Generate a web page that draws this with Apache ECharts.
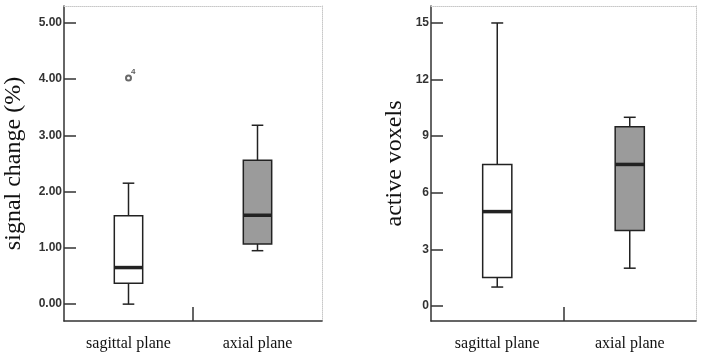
<!DOCTYPE html>
<html>
<head>
<meta charset="utf-8">
<script src="https://cdn.jsdelivr.net/npm/echarts@6/dist/echarts.min.js"></script>
<style>
  html, body { margin: 0; padding: 0; background: #fff; }
  #chart { width: 702px; height: 360px; }
</style>
</head>
<body>
<div id="chart"></div>
<script>
const planes = ["sagittal plane", "axial plane"];
// each box: [min, Q1, median, Q3, max]
const signalBoxes = [
  [0.0, 0.37, 0.65, 1.57, 2.15],
  [0.95, 1.07, 1.58, 2.56, 3.18],
];
// [category index, value, case label]
const signalOutliers = [[0, 4.02, "4"]];
const voxelBoxes = [
  [1, 1.5, 5, 7.5, 15],
  [2, 4, 7.5, 9.5, 10],
];
const signalTicks = [0, 1, 2, 3, 4, 5];
const voxelTicks = [0, 3, 6, 9, 12, 15];
const boxFills = ["#ffffff", "#9b9b9b"];

const ink = "#222";
const serif = "Liberation Serif";

// box + whiskers drawn with the axis scales
function renderBox(params, api) {
  const i = api.value(0);
  const lo = api.coord([i, api.value(1)]);
  const q1 = api.coord([i, api.value(2)]);
  const med = api.coord([i, api.value(3)]);
  const q3 = api.coord([i, api.value(4)]);
  const hi = api.coord([i, api.value(5)]);
  const band = api.size([1, 0])[0];
  const bw = band * 0.22;
  const cw = band * 0.09;
  const x = lo[0];
  const line = (x1, y1, x2, y2, w) => ({
    type: "line",
    shape: { x1, y1, x2, y2 },
    style: { stroke: ink, lineWidth: w },
  });
  return {
    type: "group",
    children: [
      line(x, hi[1], x, q3[1], 1.5),
      line(x, q1[1], x, lo[1], 1.5),
      line(x - cw / 2, hi[1], x + cw / 2, hi[1], 1.5),
      line(x - cw / 2, lo[1], x + cw / 2, lo[1], 1.5),
      {
        type: "rect",
        shape: { x: x - bw / 2, y: q3[1], width: bw, height: q1[1] - q3[1] },
        style: { fill: boxFills[i], stroke: ink, lineWidth: 1.5 },
      },
      line(x - bw / 2, med[1], x + bw / 2, med[1], 3.5),
    ],
  };
}

const grids = [
  { left: 64, top: 6, width: 258, height: 315 },
  { left: 431, top: 6, width: 265, height: 315 },
];

function mainX(gridIndex) {
  return {
    type: "category",
    gridIndex,
    data: planes,
    boundaryGap: true,
    axisLine: { show: true, onZero: false, lineStyle: { color: "#333", width: 1.5 } },
    axisTick: { show: false },
    axisLabel: { fontFamily: serif, fontSize: 16, color: "#111", margin: 15 },
    splitLine: { show: false },
  };
}

// only carries the single divider tick between the two groups
function dividerX(gridIndex) {
  return {
    type: "value",
    gridIndex,
    position: "bottom",
    min: 0,
    max: planes.length,
    axisLine: { show: false, onZero: false },
    axisTick: { show: true, inside: true, length: 14, customValues: [1], lineStyle: { color: "#333", width: 1.5 } },
    axisLabel: { show: false },
    splitLine: { show: false },
  };
}

function frameX(gridIndex) {
  return {
    type: "category",
    gridIndex,
    position: "top",
    data: planes,
    axisLine: { show: true, onZero: false, lineStyle: { color: "#c8c8c8", type: "dotted", width: 1 } },
    axisTick: { show: false },
    axisLabel: { show: false },
  };
}

function mainY(gridIndex, min, max, ticks, digits, name) {
  return {
    type: "value",
    gridIndex,
    min,
    max,
    name,
    nameLocation: "middle",
    nameGap: gridIndex === 0 ? 38 : 24,
    nameTextStyle: { fontFamily: serif, fontSize: 24, color: "#111" },
    axisLine: { show: true, onZero: false, lineStyle: { color: "#333", width: 1.5 } },
    axisTick: { show: true, inside: true, length: 12, customValues: ticks, lineStyle: { color: "#333", width: 1.5 } },
    axisLabel: {
      customValues: ticks,
      formatter: (v) => v.toFixed(digits),
      fontFamily: "Liberation Sans",
      fontWeight: "bold",
      fontSize: 12,
      color: "#333",
      margin: 2,
    },
    splitLine: { show: false },
  };
}

function frameY(gridIndex, min, max) {
  return {
    type: "value",
    gridIndex,
    position: "right",
    min,
    max,
    axisLine: { show: true, onZero: false, lineStyle: { color: "#c8c8c8", type: "dotted", width: 1 } },
    axisTick: { show: false },
    axisLabel: { show: false },
    splitLine: { show: false },
  };
}

const chart = echarts.init(document.getElementById("chart"));
chart.setOption({
  animation: false,
  grid: grids,
  xAxis: [mainX(0), mainX(1), frameX(0), frameX(1), dividerX(0), dividerX(1)],
  yAxis: [
    mainY(0, -0.3, 5.3, signalTicks, 2, "signal change (%)"),
    mainY(1, -0.8, 15.9, voxelTicks, 0, "active voxels"),
    frameY(0, -0.3, 5.3),
    frameY(1, -0.8, 15.9),
  ],
  series: [
    {
      type: "custom",
      xAxisIndex: 0,
      yAxisIndex: 0,
      renderItem: renderBox,
      encode: { x: 0, y: [1, 2, 3, 4, 5] },
      data: signalBoxes.map((b, i) => [i, ...b]),
    },
    {
      type: "scatter",
      xAxisIndex: 0,
      yAxisIndex: 0,
      symbol: "emptyCircle",
      symbolSize: 5,
      itemStyle: { color: "#444", borderWidth: 1 },
      label: {
        show: true,
        formatter: (p) => p.data[2],
        position: [6, -7],
        fontSize: 8,
        fontWeight: "bold",
        color: "#333",
      },
      data: signalOutliers,
    },
    {
      type: "custom",
      xAxisIndex: 1,
      yAxisIndex: 1,
      renderItem: renderBox,
      encode: { x: 0, y: [1, 2, 3, 4, 5] },
      data: voxelBoxes.map((b, i) => [i, ...b]),
    },
  ],
});
</script>
</body>
</html>
